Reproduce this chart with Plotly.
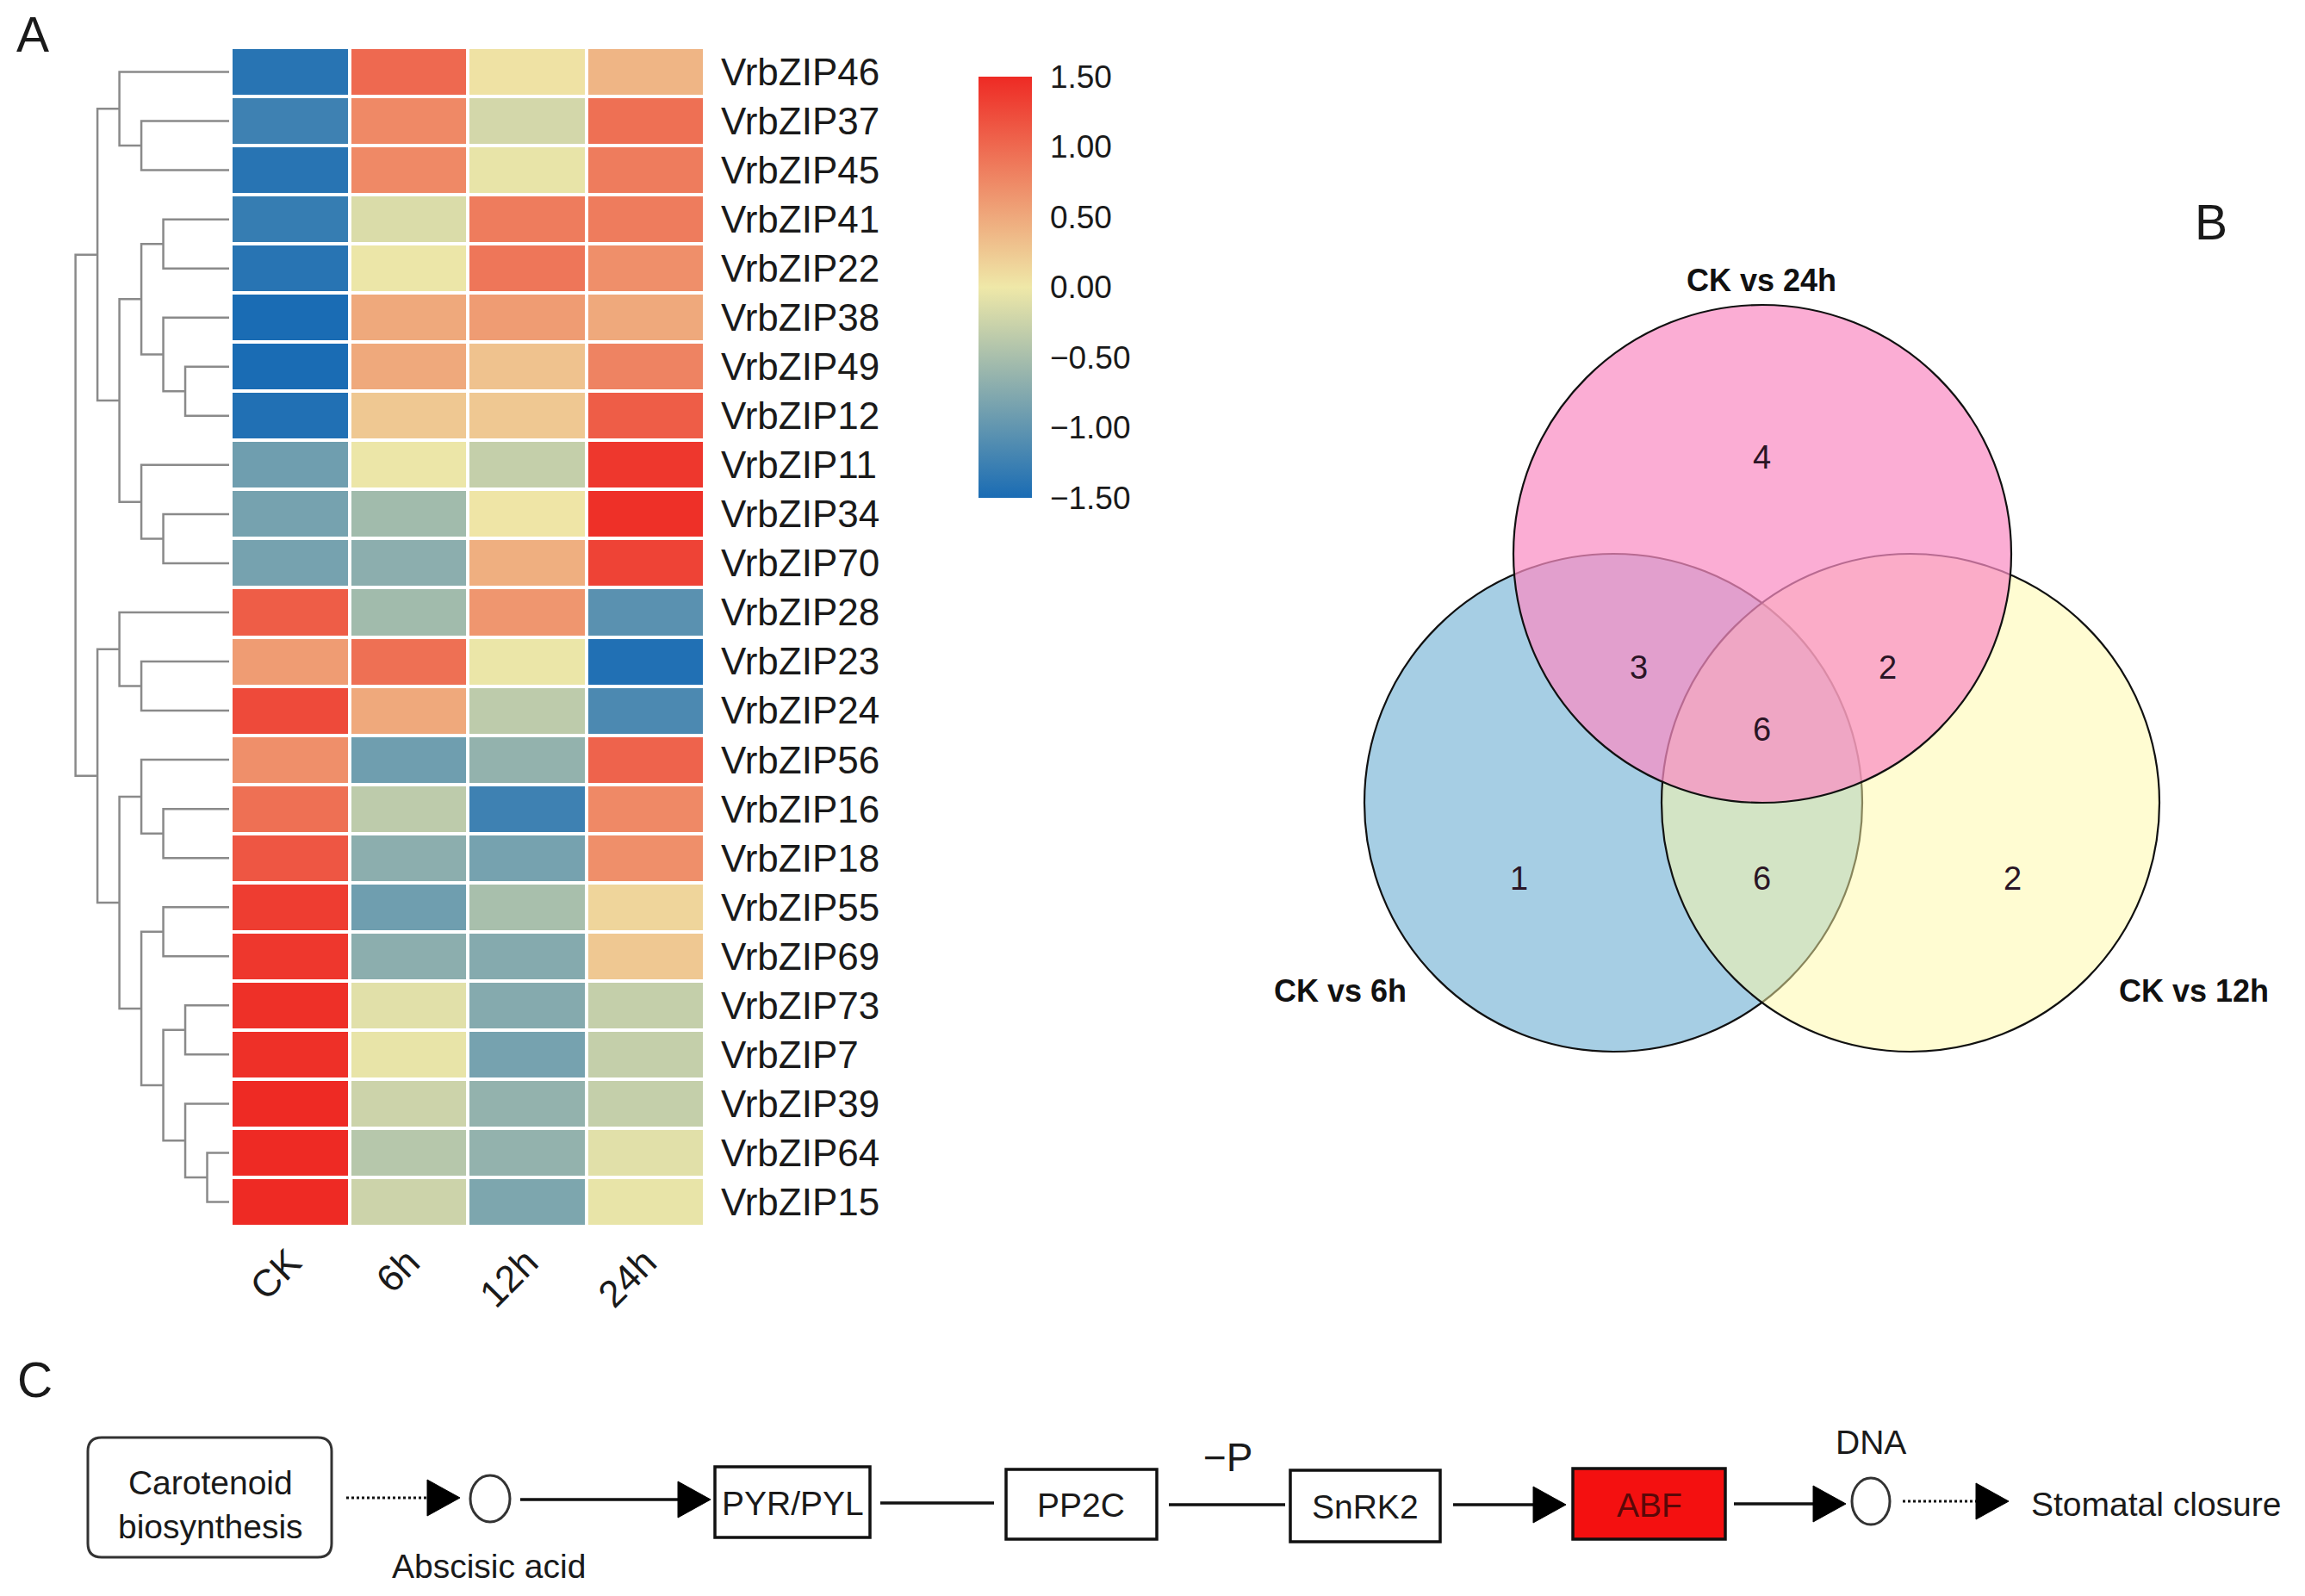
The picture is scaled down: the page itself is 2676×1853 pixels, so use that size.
import plotly.graph_objects as go

W, H = 2676, 1853
FONT = "Liberation Sans, Arial, sans-serif"

# ---------------- data ----------------
genes = ["VrbZIP46", "VrbZIP37", "VrbZIP45", "VrbZIP41", "VrbZIP22", "VrbZIP38",
         "VrbZIP49", "VrbZIP12", "VrbZIP11", "VrbZIP34", "VrbZIP70", "VrbZIP28",
         "VrbZIP23", "VrbZIP24", "VrbZIP56", "VrbZIP16", "VrbZIP18", "VrbZIP55",
         "VrbZIP69", "VrbZIP73", "VrbZIP7", "VrbZIP39", "VrbZIP64", "VrbZIP15"]
conditions = ["CK", "6h", "12h", "24h"]
ck  = [-1.40, -1.25, -1.40, -1.30, -1.40, -1.50, -1.50, -1.45, -0.90, -0.85, -0.85, 1.10,
       0.60, 1.25, 0.70, 0.95, 1.15, 1.35, 1.40, 1.45, 1.45, 1.50, 1.50, 1.50]
h6  = [1.00, 0.75, 0.75, -0.15, -0.02, 0.50, 0.50, 0.25, -0.02, -0.55, -0.70, -0.55,
       0.95, 0.50, -0.90, -0.35, -0.70, -0.90, -0.70, -0.10, -0.05, -0.25, -0.40, -0.25]
h12 = [0.05, -0.20, -0.05, 0.85, 0.90, 0.60, 0.30, 0.25, -0.30, 0.02, 0.45, 0.65,
       -0.03, -0.35, -0.65, -1.25, -0.85, -0.50, -0.75, -0.75, -0.85, -0.65, -0.65, -0.80]
h24 = [0.40, 0.95, 0.85, 0.85, 0.70, 0.50, 0.80, 1.10, 1.40, 1.45, 1.30, -1.05,
       -1.45, -1.15, 1.05, 0.75, 0.70, 0.15, 0.25, -0.30, -0.30, -0.30, -0.10, -0.05]
colorbar_ticks = [-1.5, -1.0, -0.5, 0.0, 0.5, 1.0, 1.5]

# dendrogram (merge level, left, right)
upper = (6, (5, "VrbZIP46", (4, "VrbZIP37", "VrbZIP45")),
         (5, (4, (3, "VrbZIP41", "VrbZIP22"), (3, "VrbZIP38", (2, "VrbZIP49", "VrbZIP12"))),
          (4, "VrbZIP11", (3, "VrbZIP34", "VrbZIP70"))))
lower = (6, (5, "VrbZIP28", (4, "VrbZIP23", "VrbZIP24")),
         (5, (4, "VrbZIP56", (3, "VrbZIP16", "VrbZIP18")),
          (4, (3, "VrbZIP55", "VrbZIP69"),
           (3, (2, "VrbZIP73", "VrbZIP7"), (2, "VrbZIP39", (1, "VrbZIP64", "VrbZIP15"))))))
tree = (7, upper, lower)

# Venn
venn_sets = ["CK vs 24h", "CK vs 6h", "CK vs 12h"]
venn_counts = {"24h": 4, "6h&24h": 3, "12h&24h": 2, "all": 6,
               "6h": 1, "6h&12h": 6, "12h": 2}

# pathway
path_nodes = ["Carotenoid<br>biosynthesis", "PYR/PYL", "PP2C", "SnRK2", "ABF"]
path_small = ["Abscisic acid", "DNA", "Stomatal closure", "\u2212P"]

# ---------------- figure ----------------
fig = go.Figure()

z = [[ck[i], h6[i], h12[i], h24[i]] for i in range(len(genes))]
fig.add_trace(go.Heatmap(
    z=z, x=list(range(4)), y=list(range(len(genes))),
    zmin=-1.5, zmax=1.5, xgap=4, ygap=4,
    colorscale=[[0, "#1a6cb4"], [0.5, "#efe8a8"], [1, "#ee2a24"]],
    colorbar=dict(x=1126 / W, xanchor="left", y=1 - 79 / H, yanchor="top",
                  len=(588 - 79) / H, lenmode="fraction", thickness=62,
                  outlinewidth=0, tickvals=colorbar_ticks, tickformat=".2f",
                  ticks="outside", ticklen=14, tickcolor="white",
                  tickfont=dict(size=37, family=FONT, color="#1a1a1a")),
    hoverinfo="skip"))

# dendrogram lines
ypos = {g: i for i, g in enumerate(genes)}
dx, dy = [], []


def walk(node):
    if isinstance(node, str):
        return ypos[node], 0
    h, l, r = node
    yl, hl = walk(l)
    yr, hr = walk(r)
    dx.extend([hl, h, h, hr, None])
    dy.extend([yl, yl, yr, yr, None])
    return (yl + yr) / 2, h


walk(tree)
fig.add_trace(go.Scatter(x=dx, y=dy, xaxis="x2", yaxis="y", mode="lines",
                         line=dict(color="#8a8a8a", width=2.5), hoverinfo="skip",
                         showlegend=False))

# overlay page axis (pixel units)
fig.add_trace(go.Scatter(x=[0], y=[0], xaxis="x3", yaxis="y3", mode="markers",
                         marker=dict(opacity=0), hoverinfo="skip", showlegend=False))

shapes, ann = [], []


def text(x, y, s, size, bold=False, color="#1a1a1a", xanchor="center"):
    ann.append(dict(x=x, y=y, xref="x3", yref="y3", text=("<b>%s</b>" % s) if bold else s,
                    showarrow=False, xanchor=xanchor, yanchor="middle",
                    font=dict(size=size, family=FONT, color=color)))


# panel letters
text(38, 40, "A", 57)
text(2567, 258, "B", 57)
text(40, 1602, "C", 57)

# ---- Venn ----
R = 289
centers = {"CK vs 6h": (1873, 932), "CK vs 12h": (2218, 932), "CK vs 24h": (2046, 643)}
fills = {"CK vs 6h": "rgba(166,206,228,1)", "CK vs 12h": "rgba(255,249,165,0.5)",
         "CK vs 24h": "rgba(250,142,196,0.72)"}
for name in ["CK vs 6h", "CK vs 12h", "CK vs 24h"]:
    cx, cy = centers[name]
    shapes.append(dict(type="circle", xref="x3", yref="y3", x0=cx - R, x1=cx + R,
                       y0=cy - R, y1=cy + R, fillcolor=fills[name],
                       line=dict(color="#111111", width=2.2), layer="above"))
label_pos = {"CK vs 24h": (2045, 325), "CK vs 6h": (1556, 1150), "CK vs 12h": (2547, 1150)}
for s in venn_sets:
    text(*label_pos[s], s, 36, bold=True, color="#111111")
count_pos = {"24h": (2045, 531), "6h&24h": (1902, 775), "12h&24h": (2191, 775),
             "all": (2045, 847), "6h": (1763, 1020), "6h&12h": (2045, 1020), "12h": (2336, 1020)}
for k, v in venn_counts.items():
    text(*count_pos[k], str(v), 38, color="#2a1525")

# ---- pathway ----
LW = 3.5
LC = "#111111"


def rect(x0, y0, x1, y1, fill="white"):
    shapes.append(dict(type="rect", xref="x3", yref="y3", x0=x0, x1=x1, y0=y0, y1=y1,
                       fillcolor=fill, line=dict(color=LC, width=LW), layer="above"))


def rrect(x0, y0, x1, y1, r):
    p = (f"M{x0 + r},{y0} L{x1 - r},{y0} Q{x1},{y0} {x1},{y0 + r} L{x1},{y1 - r} "
         f"Q{x1},{y1} {x1 - r},{y1} L{x0 + r},{y1} Q{x0},{y1} {x0},{y1 - r} "
         f"L{x0},{y0 + r} Q{x0},{y0} {x0 + r},{y0} Z")
    shapes.append(dict(type="path", xref="x3", yref="y3", path=p, fillcolor="white",
                       line=dict(color="#333333", width=3), layer="above"))


def hline(x0, x1, y, dash="solid", width=LW):
    shapes.append(dict(type="line", xref="x3", yref="y3", x0=x0, x1=x1, y0=y, y1=y,
                       line=dict(color=LC, width=width, dash=dash), layer="above"))


def head(x, y, w=38, h=42):
    p = f"M{x},{y - h / 2} L{x + w},{y} L{x},{y + h / 2} Z"
    shapes.append(dict(type="path", xref="x3", yref="y3", path=p, fillcolor="black",
                       line=dict(color="black", width=1), layer="above"))


def ell(cx, cy, rx, ry):
    shapes.append(dict(type="circle", xref="x3", yref="y3", x0=cx - rx, x1=cx + rx,
                       y0=cy - ry, y1=cy + ry, fillcolor="white",
                       line=dict(color="#333333", width=3), layer="above"))


rrect(102, 1669, 385, 1808, 16)
text(244, 1747, path_nodes[0], 39)
hline(402, 496, 1739, dash="dot", width=3)
head(496, 1739)
ell(569, 1740, 23, 27)
text(567, 1818, path_small[0], 39)
hline(604, 788, 1741)
head(787, 1741)
rect(830, 1703, 1010, 1785)
text(920, 1745, path_nodes[1], 39)
hline(1022, 1154, 1745)
rect(1168, 1706, 1343, 1787)
text(1255, 1747, path_nodes[2], 39)
hline(1357, 1492, 1747)
text(1426, 1692, path_small[3], 46)
rect(1498, 1707, 1672, 1790)
text(1585, 1749, path_nodes[3], 39)
hline(1687, 1782, 1747)
head(1780, 1747)
rect(1826, 1705, 2003, 1787, fill="#f41010")
text(1915, 1747, path_nodes[4], 39, color="#5a0808")
hline(2013, 2107, 1746)
head(2105, 1746)
ell(2172, 1743, 22, 27)
text(2172, 1674, path_small[1], 39)
hline(2209, 2296, 1743, dash="dot", width=3)
head(2294, 1743)
text(2356, 1746, path_small[2], 39, xanchor="left")

fig.update_layout(
    width=W, height=H, margin=dict(l=0, r=0, t=0, b=0),
    paper_bgcolor="white", plot_bgcolor="rgba(0,0,0,0)", showlegend=False,
    font=dict(family=FONT, color="#1a1a1a"),
    xaxis=dict(domain=[268 / W, 818 / W], anchor="y", range=[-0.5, 3.5],
               tickvals=list(range(4)), ticktext=conditions, tickangle=-45,
               tickfont=dict(size=44, family=FONT, color="#1a1a1a"), ticklabelstandoff=6,
               showgrid=False, zeroline=False, showline=False, ticks=""),
    yaxis=dict(domain=[1 - 1424 / H, 1 - 55 / H], anchor="x", range=[len(genes) - 0.5, -0.5],
               side="right", tickvals=list(range(len(genes))), ticktext=genes,
               tickfont=dict(size=44, family=FONT, color="#1a1a1a"), ticklabelstandoff=18,
               showgrid=False, zeroline=False, showline=False, ticks=""),
    xaxis2=dict(domain=[80 / W, 266 / W], anchor="y", range=[7.3, 0], visible=False),
    xaxis3=dict(domain=[0, 1], anchor="y3", range=[0, W], visible=False, fixedrange=True),
    yaxis3=dict(domain=[0, 1], anchor="x3", range=[H, 0], visible=False, fixedrange=True),
    shapes=shapes, annotations=ann,
)

fig.write_html("out.html", config={"displayModeBar": False},
               post_script="document.body.style.margin='0';document.body.style.overflow='hidden';")
